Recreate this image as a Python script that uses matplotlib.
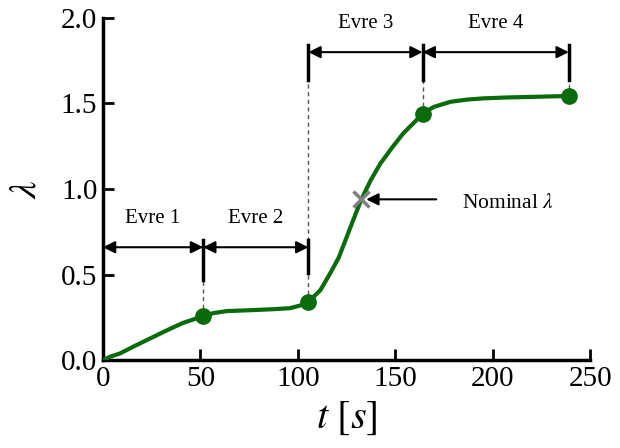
import matplotlib
matplotlib.use("Agg")
import matplotlib.pyplot as plt

plt.rcParams['font.family'] = ['Liberation Serif', 'DejaVu Serif']
plt.rcParams['mathtext.fontset'] = 'stix'

# curve
t_curve = [0, 3.6, 8.7, 15.4, 24.2, 32.9, 41.1, 51.4,
           56.6, 63.6, 75.6, 87.4, 96, 101.3, 105.4,
           111.6, 116.7, 121, 124.4, 128, 132.6, 137.3, 142.4, 148.6, 154.2, 159.4, 164,
           169.7, 178.4, 187, 195.4, 206.7, 218, 239]
lam_curve = [0, 0.02, 0.039, 0.078, 0.127, 0.175, 0.218, 0.257,
             0.275, 0.287, 0.292, 0.298, 0.304, 0.32, 0.34,
             0.41, 0.51, 0.60, 0.70, 0.807, 0.94, 1.05, 1.15, 1.246, 1.327, 1.386, 1.44,
             1.48, 1.51, 1.523, 1.53, 1.535, 1.538, 1.544]

# phase boundaries (markers)
t_pts = [51.4, 105.4, 164, 239]
lam_pts = [0.257, 0.34, 1.44, 1.544]

phase_names = ['Evre 1', 'Evre 2', 'Evre 3', 'Evre 4']
phase_start = [0, 51.4, 105.4, 164]
phase_end = [51.4, 105.4, 164, 239]
phase_level = [0.66, 0.66, 1.80, 1.80]

nominal_t = 132.6
nominal_lam = 0.94

green = '#0a6b0a'

fig = plt.figure(figsize=(6.2, 4.48), dpi=100)
ax = fig.add_axes([0.166, 0.196, 0.786, 0.764])

ax.plot(t_curve, lam_curve, color=green, lw=3, zorder=3,
        solid_capstyle='round', solid_joinstyle='round')
ax.plot(t_pts, lam_pts, 'o', color=green, ms=11, zorder=4)
ax.plot([nominal_t], [nominal_lam], 'x', color='#808080', ms=12, mew=2.5, zorder=5)

# vertical bars and dashed guides
bar_lo = {51.4: 0.47, 105.4: 0.51}
for x, y in zip(t_pts, lam_pts):
    if x in bar_lo:
        ax.plot([x, x], [bar_lo[x], 0.70], color='black', lw=2.5, zorder=2)
    if x == 51.4:
        top = 0.47
    else:
        top = 1.64
        ax.plot([x, x], [1.64, 1.84], color='black', lw=2.5, zorder=2)
    ax.plot([x, x], [y, top], color='#555555', lw=1, ls=(0, (3, 2.5)), zorder=1)

for name, a, b, lv in zip(phase_names, phase_start, phase_end, phase_level):
    ax.annotate('', xy=(b, lv), xytext=(a, lv),
                arrowprops=dict(arrowstyle='<|-|>', color='black', lw=1.5,
                                mutation_scale=18, shrinkA=0, shrinkB=0))
    ax.text((a + b) / 2, lv + 0.17, name, ha='center', va='center', fontsize=15)

ax.annotate('', xy=(nominal_t + 2.5, nominal_lam), xytext=(171, nominal_lam),
            arrowprops=dict(arrowstyle='-|>', color='black', lw=1.5,
                            mutation_scale=18, shrinkA=0, shrinkB=0))
ax.text(184, nominal_lam - 0.025, r'Nominal $\lambda$', ha='left', va='center', fontsize=15.5)

ax.set_xlim(0, 250)
ax.set_ylim(0, 2.0)
ax.set_xticks([0, 50, 100, 150, 200, 250])
ax.set_yticks([0, 0.5, 1.0, 1.5, 2.0])
ax.set_yticklabels(['0.0', '0.5', '1.0', '1.5', '2.0'])
for s in ['top', 'right']:
    ax.spines[s].set_visible(False)
for s in ['left', 'bottom']:
    ax.spines[s].set_linewidth(2.5)
ax.tick_params(direction='in', length=8, width=2, labelsize=21, pad=4)

ax.set_xlabel(r'$t\ [s]$', fontsize=29, labelpad=6)
ax.set_ylabel(r'$\lambda$', fontsize=28, labelpad=12, rotation=90)

fig.savefig('out.png', dpi=100)
